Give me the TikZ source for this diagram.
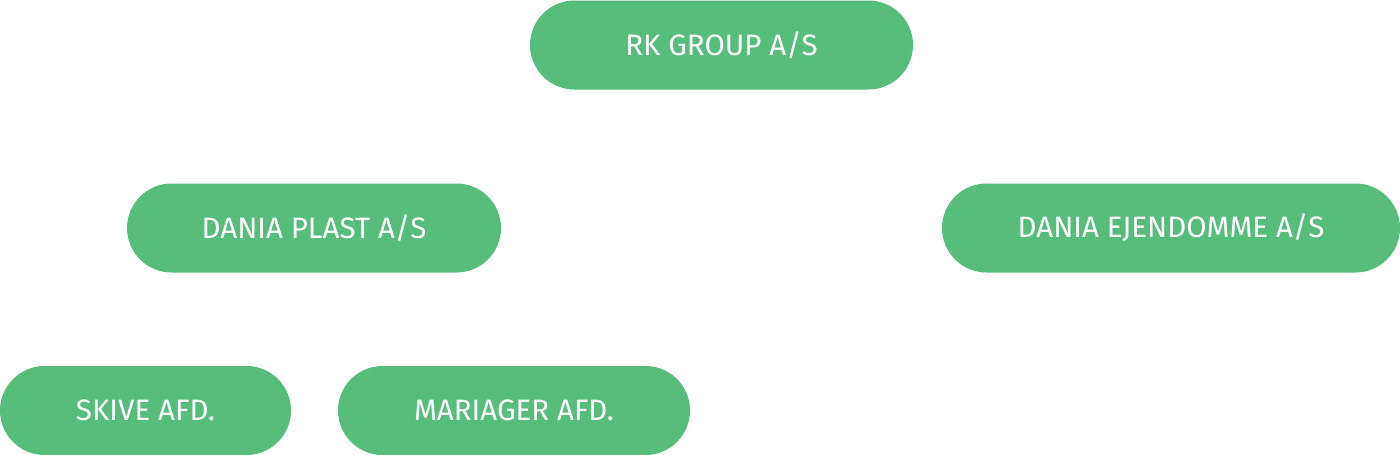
\documentclass[tikz,border=0pt]{standalone}
\usepackage{fontspec}
\setmainfont{Fira Sans}
\definecolor{pillgreen}{HTML}{57BD7B}
\begin{document}
\begin{tikzpicture}[x=1pt,y=-1pt,
  pill/.style={fill=pillgreen, draw=none, rounded corners=44.5pt, minimum height=89pt, inner sep=0pt, text=white, font=\fontsize{29.5}{34}\selectfont}]
\useasboundingbox[fill=white] (0,0) rectangle (1400,455);
\node[pill, minimum width=383pt] (rk) at (721.5,45) {RK GROUP A/S};
\node[pill, minimum width=374pt] (plast) at (314,228) {DANIA PLAST A/S};
\node[pill, minimum width=458pt] (ejd) at (1171,228) {DANIA EJENDOMME A/S};
\node[pill, minimum width=291pt] (skive) at (145.5,410.5) {SKIVE AFD.};
\node[pill, minimum width=352pt] (mariager) at (514,410.5) {MARIAGER AFD.};
\end{tikzpicture}
\end{document}
